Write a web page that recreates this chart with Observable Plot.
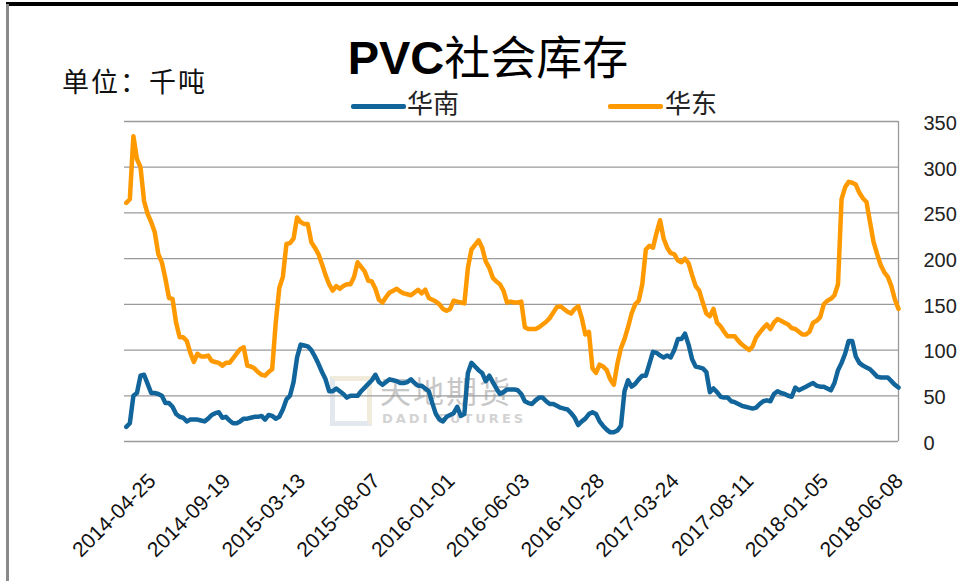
<!DOCTYPE html>
<html><head><meta charset="utf-8">
<script src="https://cdn.jsdelivr.net/npm/d3@7"></script>
<script src="https://cdn.jsdelivr.net/npm/@observablehq/plot@0.6"></script>
<style>
body{margin:0;background:#fff;}
#wrap{position:relative;width:958px;height:581px;overflow:hidden;background:#fff;font-family:"Noto Sans CJK SC","Noto Sans",sans-serif;}
#chart{position:absolute;left:0;top:0;z-index:2;}
#chart svg{background:transparent !important;}
.abs{position:absolute;white-space:nowrap;z-index:3;}
#frameTop{position:absolute;left:6px;top:2px;width:960px;height:4px;background:#000;z-index:4;}
#frameLeft{position:absolute;left:6px;top:4px;width:3px;height:580px;background:#8a8a8a;z-index:4;}
#title{left:0;width:976px;text-align:center;top:31px;font-size:46px;line-height:1;color:#000;}
#title b{font-family:"Liberation Sans Narrow","Liberation Sans",sans-serif;font-weight:bold;font-size:47px;}
#unit{left:62px;top:67px;font-size:27px;line-height:1;color:#111;letter-spacing:2px;}
.leg{top:89px;font-size:26px;line-height:1;color:#222;}
.sw{position:absolute;height:5px;top:104px;border-radius:2px;z-index:3;}
#wm{position:absolute;left:330px;top:372px;width:220px;height:60px;z-index:1;opacity:0.55;white-space:nowrap;}
#wm .logo{position:absolute;left:0;top:4px;width:42px;height:50px;border:5px solid #cdd6e2;border-top-color:#e7dcc1;border-right-color:#e7dcc1;box-sizing:border-box;}
#wm .cn{position:absolute;left:50px;top:2px;font-size:31px;line-height:1;color:#9a9a9a;letter-spacing:2px;white-space:nowrap;}
#wm .en{position:absolute;left:52px;top:40px;font-family:"DejaVu Sans",sans-serif;font-weight:bold;font-size:13px;line-height:1;color:#b0b0b0;letter-spacing:3px;white-space:nowrap;}
</style></head><body>
<div id="wrap">
  <div id="frameTop"></div><div id="frameLeft"></div>
  <div id="wm"><div class="logo"></div><div class="cn">天地期货</div><div class="en">DADI FUTURES</div></div>
  <div id="chart"></div>
  <div id="title" class="abs"><b>PVC</b>社会库存</div>
  <div id="unit" class="abs">单位：千吨</div>
  <div class="sw" id="sw1" style="left:351px;width:55px;background:#12659b"></div>
  <div class="abs leg" id="leg1" style="left:407px">华南</div>
  <div class="sw" id="sw2" style="left:608px;width:55px;background:#ff9900"></div>
  <div class="abs leg" id="leg2" style="left:665px">华东</div>
</div>
<script>
// Weekly social inventory (thousand tonnes), week index 0 = 2014-04-25
const huanan = [
16,20,50,53,72,73,63,53,53,52,
50,42,42,38,30,27,26,22,24,24,
24,23,22,25,29,31,32,26,27,23,
20,20,22,25,25,26,27,27,28,24,
29,28,25,27,35,46,50,65,92,106,
105,104,100,93,85,76,68,55,55,58,
55,52,48,50,50,50,55,59,63,67,
73,65,62,65,68,67,66,64,64,65,
68,64,61,61,58,55,42,30,24,22,
27,29,31,38,28,30,75,86,82,78,
75,66,72,65,58,52,54,57,57,57,
56,52,44,42,41,45,48,48,44,41,
41,39,37,36,35,31,26,18,22,25,
30,32,30,22,17,13,10,10,12,17,
55,67,60,63,68,72,72,85,98,97,
94,92,94,92,100,112,112,118,106,90,
82,81,80,76,54,58,54,49,48,48,
44,43,41,39,38,37,36,37,41,44,
45,44,52,55,53,52,50,49,59,56,
58,60,62,64,61,60,60,58,56,64,
78,86,96,110,110,93,86,83,81,79,
75,71,70,70,70,66,62,59
];
const huadong = [
261,265,334,309,300,263,249,240,229,205,
196,178,157,156,130,114,114,110,97,87,
96,93,93,94,88,87,86,83,86,86,
91,96,101,103,83,82,80,76,73,72,
76,79,130,168,180,216,217,222,245,240,
238,238,218,212,205,194,182,172,165,170,
167,170,172,172,180,196,191,186,176,175,
167,155,152,158,163,165,167,164,162,161,
160,163,166,162,166,157,155,153,150,145,
143,145,154,153,152,151,190,210,215,220,
212,197,190,179,175,172,165,152,153,152,
152,153,125,123,123,123,125,128,131,135,
141,147,148,145,142,140,145,148,135,117,
120,80,75,84,82,78,68,62,85,102,
112,125,140,150,154,172,210,214,212,228,
242,222,212,206,205,198,196,200,195,182,
170,165,152,140,137,145,130,126,120,115,
115,115,110,106,103,100,104,114,119,124,
128,123,130,134,132,130,128,124,123,120,
117,117,120,130,132,136,150,154,156,160,
172,265,278,284,283,281,272,266,262,240,
218,205,193,185,180,170,155,145
];
const tickWeeks = [0,21,42,63,84,105,126,147,168,189,210];
const tickLabels = ["2014-04-25","2014-09-19","2015-03-13","2015-08-07","2016-01-01","2016-06-03","2016-10-28","2017-03-24","2017-08-11","2018-01-05","2018-06-08"];
const yTicks = [0,50,100,150,200,250,300,350];

const last = huanan.length - 1;
const chart = Plot.plot({
  width: 958, height: 581,
  marginLeft: 124, marginRight: 60, marginTop: 121, marginBottom: 140,
  style: {background: "transparent", fontFamily: "'Liberation Sans Narrow','Liberation Sans',sans-serif"},
  x: {domain: [-0.5, last], axis: null},
  y: {domain: [0, 350], axis: null},
  marks: [
    Plot.ruleY(yTicks, {stroke: "#9a9a9a", strokeWidth: 1.3}),
    Plot.ruleX([last], {stroke: "#9a9a9a", strokeWidth: 1.3}),
    Plot.lineY(huanan, {stroke: "#12659b", strokeWidth: 4.5, strokeLinejoin: "round", strokeLinecap: "round"}),
    Plot.lineY(huadong, {stroke: "#ff9900", strokeWidth: 4.5, strokeLinejoin: "round", strokeLinecap: "round"}),
    Plot.axisY(yTicks, {anchor: "right", tickSize: 0, tickPadding: 25, fontSize: 20, fill: "#222", dy: 2}),
    Plot.axisX(tickWeeks, {anchor: "bottom", tickSize: 0, tickPadding: 36, tickRotate: -45, fontSize: 21, fill: "#111", dx: 26,
      tickFormat: d => tickLabels[tickWeeks.indexOf(d)]})
  ]
});
document.getElementById("chart").appendChild(chart);
</script>
</body></html>
